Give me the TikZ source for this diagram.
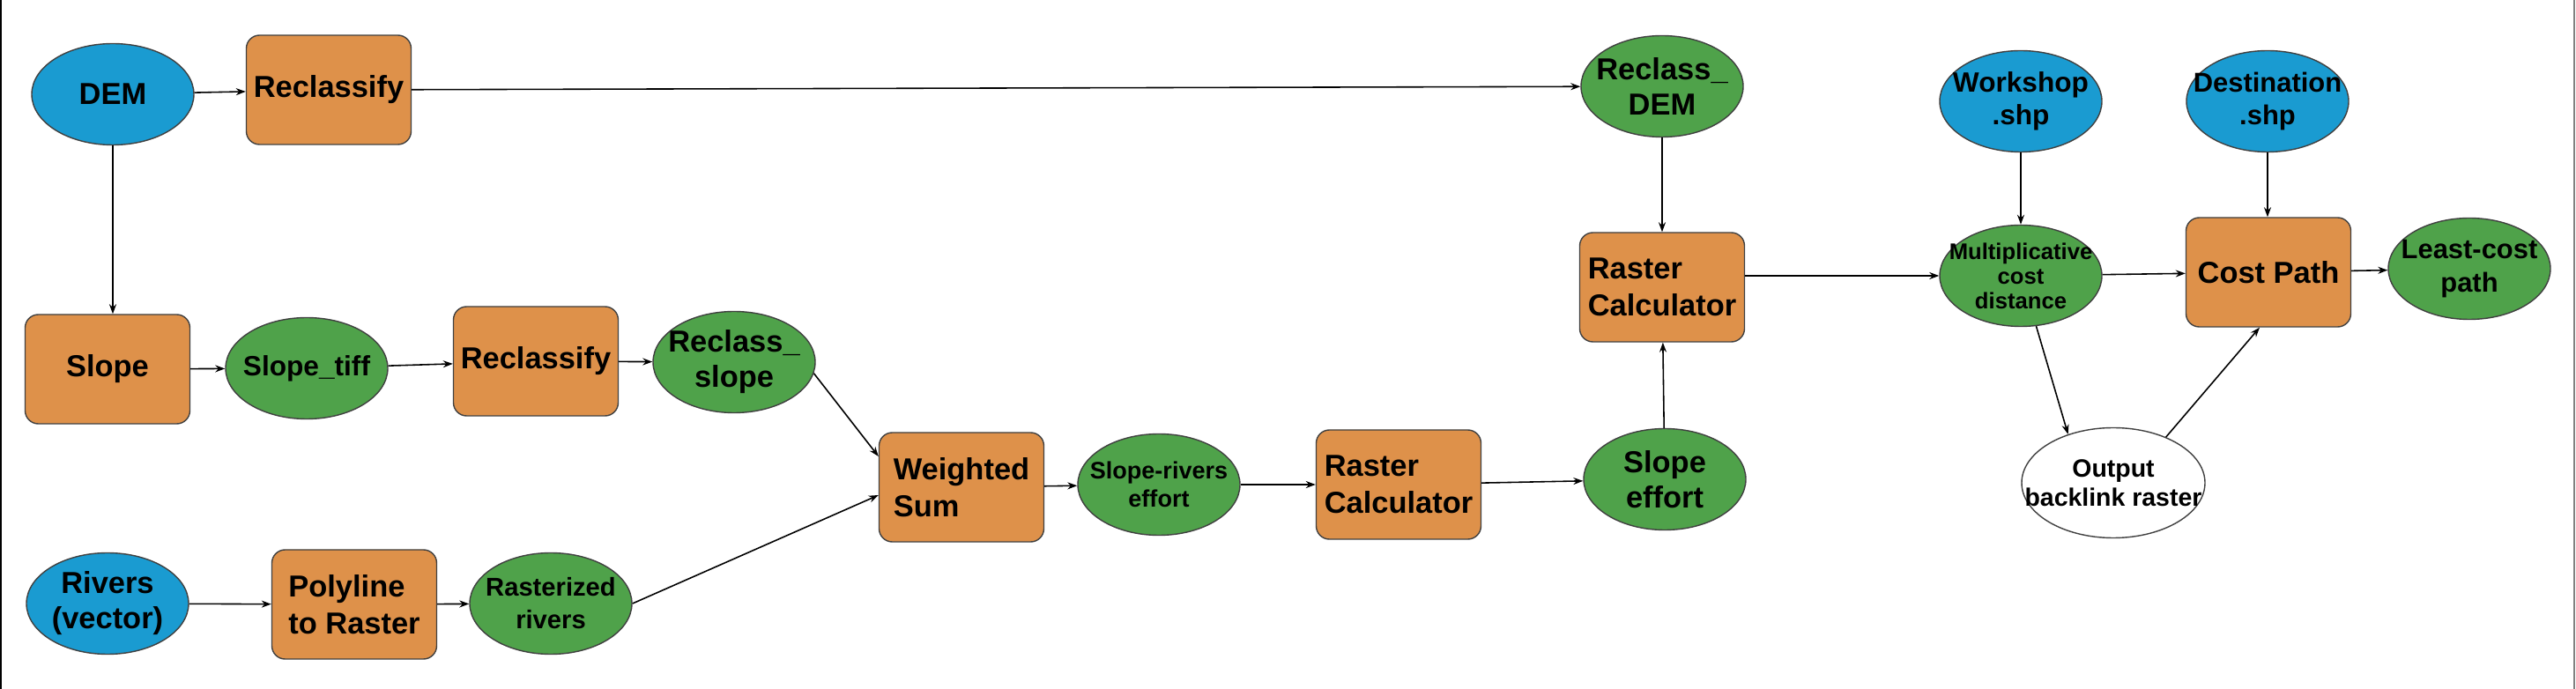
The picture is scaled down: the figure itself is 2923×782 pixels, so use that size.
\documentclass[tikz,border=0pt]{standalone}
\usepackage{fontspec}
\setmainfont{Liberation Sans}
\usetikzlibrary{shapes.geometric,arrows.meta}
\definecolor{inblue}{HTML}{1A9BD1}
\definecolor{outgreen}{HTML}{4FA24A}
\definecolor{toolorange}{HTML}{DE914A}

\begin{document}
\begin{tikzpicture}[
  x=0.1mm, y=-0.1mm,
  every node/.style = {draw=black!75, line width=0.4pt, inner sep=0pt},
  fs/.style 2 args = {font=\bfseries\fontsize{#1}{#2}\selectfont},
  tool/.style = {rectangle, rounded corners=1.5mm, fill=toolorange,
    minimum width=18.7mm, minimum height=12.4mm, align=left, fs={9.8}{11.9}},
  data/.style = {ellipse, minimum width=18.4mm, minimum height=11.5mm,
    inner xsep=-4mm, inner ysep=-3mm, align=center, fs={9.8}{11.4}},
  indata/.style = {data, fill=inblue},
  outdata/.style = {data, fill=outgreen},
  flow/.style = {-{Stealth[length=1.1mm, width=0.8mm]}, line width=0.45pt}
  ]
  \useasboundingbox (0,0) rectangle (2923,782);
  \draw[line width=0.5pt] (1,0) -- (1,782);
  \draw[gray, line width=0.6pt] (2921,0) -- (2921,782);

  \node[indata] (dem) at (128,107) {DEM};
  \node[tool] (recl1) at (373,102) {Reclassify};
  \node[outdata] (rdem) at (1886,98) {Reclass\_\\DEM};
  \node[tool] (slope) at (122,419) {Slope};
  \node[outdata, fs={9}{10.5}] (slopetiff) at (348,418) {Slope\_tiff};
  \node[tool] (recl2) at (608,410) {Reclassify};
  \node[outdata] (rslope) at (833,411) {Reclass\_\\slope};
  \node[indata] (rivers) at (122,685) {Rivers\\(vector)};
  \node[tool] (poly) at (402,686) {Polyline\\to Raster};
  \node[outdata, fs={8.3}{10.5}] (rastriv) at (625,685) {Rasterized\\rivers};
  \node[tool] (wsum) at (1091,553) {Weighted\\Sum};
  \node[outdata, fs={7.7}{9}] (sreff) at (1315,550) {Slope-rivers\\effort};
  \node[tool] (rcalc2) at (1587,550) {Raster\\Calculator};
  \node[outdata] (seff) at (1889,544) {Slope\\effort};
  \node[tool] (rcalc1) at (1886,326) {Raster\\Calculator};
  \node[indata, fs={9}{10.5}] (work) at (2293,115) {Workshop\\.shp};
  \node[indata, fs={8.8}{10.5}] (dest) at (2573,115) {Destination\\.shp};
  \node[outdata, fs={7.3}{8}] (mcd) at (2293,313) {Multiplicative\\cost\\distance};
  \node[tool] (cpath) at (2574,309) {Cost Path};
  \node[outdata, fs={8.8}{10.8}] (lcp) at (2802,305) {Least-cost\\path};
  \node[data, fill=white, minimum width=20.8mm, minimum height=12.5mm,
    fs={8.1}{9.5}] (backlink) at (2398,548) {Output\\backlink raster};

  \draw[flow] (dem) -- (recl1);
  \draw[flow] (recl1) -- (rdem);
  \draw[flow] (dem) -- (dem |- slope.north);
  \draw[flow] (slope) -- (slopetiff);
  \draw[flow] (slopetiff) -- (recl2);
  \draw[flow] (recl2) -- (rslope);
  \draw[flow] (rslope.-8) -- ([yshift=3.5mm]wsum.west);
  \draw[flow] (rivers) -- (poly);
  \draw[flow] (poly) -- (rastriv);
  \draw[flow] (rastriv.east) -- ([yshift=-0.9mm]wsum.west);
  \draw[flow] (wsum) -- (sreff);
  \draw[flow] (sreff) -- (rcalc2);
  \draw[flow] (rcalc2) -- (seff);
  \draw[flow] (seff) -- (rcalc1);
  \draw[flow] (rdem) -- (rcalc1);
  \draw[flow] (mcd.west -| rcalc1.east) -- (mcd);
  \draw[flow] (work) -- (mcd);
  \draw[flow] (dest) -- (dest |- cpath.north);
  \draw[flow] (mcd) -- (cpath);
  \draw[flow] (cpath) -- (lcp);
  \draw[flow] (mcd.-73) -- (backlink.133);
  \draw[flow] (backlink.41) -- ([xshift=-1mm]cpath.south);
\end{tikzpicture}
\end{document}
